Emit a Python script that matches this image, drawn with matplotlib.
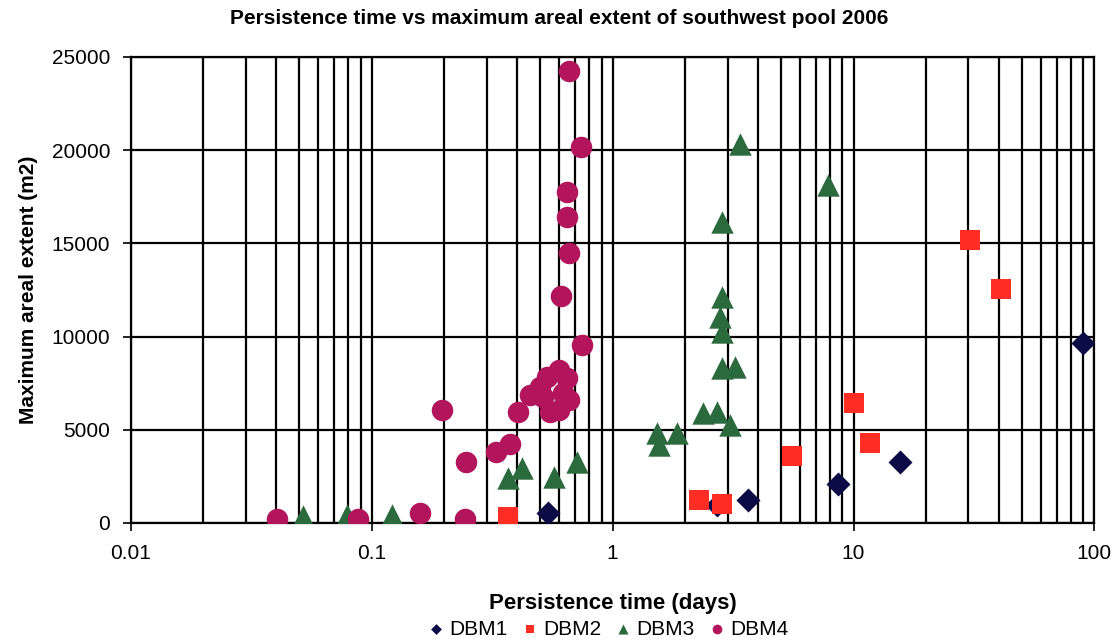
import matplotlib
matplotlib.use('Agg')
import matplotlib.pyplot as plt
from matplotlib.ticker import LogLocator, NullFormatter, FixedLocator

# persistence time (days) and maximum areal extent (m2) per DEM
dbm1_x = [0.54, 2.72, 3.66, 8.65, 15.6, 90.0]
dbm1_y = [540, 970, 1240, 2100, 3280, 9680]

dbm2_x = [0.368, 2.29, 2.85, 5.57, 10.07, 11.7, 30.5, 41.1]
dbm2_y = [320, 1240, 1020, 3600, 6450, 4300, 15160, 12530]

dbm3_x = [0.0405, 0.0518, 0.0789, 0.121, 0.368, 0.42, 0.571, 0.713,
          1.53, 1.56, 1.85, 2.38, 2.72, 3.08, 2.85, 3.23, 2.80, 2.85,
          2.85, 2.85, 3.39, 7.85]
dbm3_y = [100, 380, 420, 430, 2420, 2960, 2470, 3280,
          4840, 4190, 4840, 5910, 5970, 5270, 8330, 8390, 11070, 12100,
          10270, 16130, 20320, 18120]

dbm4_x = [0.0404, 0.0877, 0.158, 0.244, 0.196, 0.246, 0.328, 0.375,
          0.404, 0.454, 0.514, 0.550, 0.536, 0.647, 0.623, 0.600, 0.500,
          0.660, 0.600, 0.746, 0.611, 0.647, 0.647, 0.659, 0.740, 0.659]
dbm4_y = [215, 215, 540, 215, 6075, 3280, 3820, 4250,
          5970, 6880, 6770, 5970, 7850, 7800, 6990, 8225, 7310,
          6610, 6075, 9570, 12150, 17740, 16400, 14460, 20160, 24250]

series = [
    ('DBM1', dbm1_x, dbm1_y, 'D', '#0b0b45', 150),
    ('DBM2', dbm2_x, dbm2_y, 's', '#ff2d24', 190),
    ('DBM3', dbm3_x, dbm3_y, '^', '#2b6a3c', 260),
    ('DBM4', dbm4_x, dbm4_y, 'o', '#b3155c', 240),
]

plt.rcParams['font.family'] = ['Liberation Sans', 'DejaVu Sans']

fig = plt.figure(figsize=(11.19, 6.44), dpi=100)
ax = fig.add_axes([0.117, 0.188, 0.861, 0.7235])

for name, xs, ys, mk, col, sz in series:
    ax.scatter(xs, ys, marker=mk, s=sz, color=col, label=name,
               linewidths=0, zorder=3)

ax.set_xscale('log')
ax.set_xlim(0.01, 100)
ax.set_ylim(0, 25000)
ax.set_yticks([0, 5000, 10000, 15000, 20000, 25000])
ax.xaxis.set_major_locator(FixedLocator([0.01, 0.1, 1, 10, 100]))
ax.set_xticklabels(['0.01', '0.1', '1', '10', '100'])
ax.xaxis.set_minor_locator(LogLocator(base=10, subs=range(2, 10)))
ax.xaxis.set_minor_formatter(NullFormatter())

ax.grid(True, which='both', axis='x', color='black', linewidth=1.6)
ax.grid(True, which='major', axis='y', color='black', linewidth=1.6)
ax.set_axisbelow(True)
for sp in ax.spines.values():
    sp.set_linewidth(1.6)

ax.tick_params(axis='both', which='major', labelsize=15, direction='out',
               length=6, width=1.2, pad=9)
ax.tick_params(axis='x', which='minor', length=0)

fig.text(0.5, 0.972,
         'Persistence time vs maximum areal extent of southwest pool 2006',
         ha='center', va='center', fontsize=15, fontweight='bold')
ax.set_xlabel('Persistence time (days)', fontsize=16, fontweight='bold',
              labelpad=22)
ax.set_ylabel('Maximum areal extent (m2)', fontsize=15, fontweight='bold',
              labelpad=10)

handles, labels = ax.get_legend_handles_labels()
fig.legend(handles, labels, loc='center', bbox_to_anchor=(0.543, 0.023),
           ncol=4, frameon=False, fontsize=15, handletextpad=0.2,
           handlelength=0.9, columnspacing=0.6, markerscale=0.45)

fig.savefig('out.png', dpi=100)
